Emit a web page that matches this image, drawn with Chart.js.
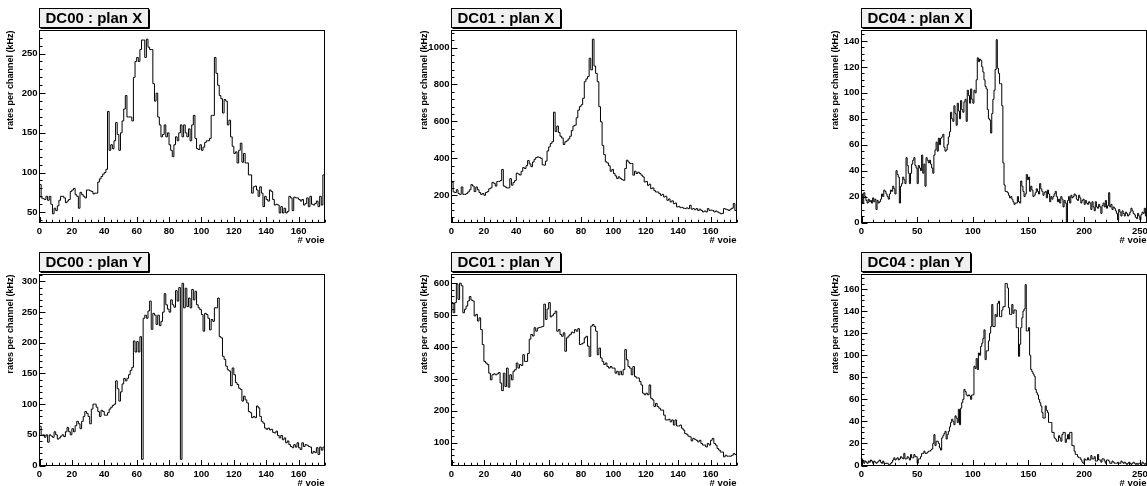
<!DOCTYPE html>
<html>
<head>
<meta charset="utf-8">
<title>DC rates per channel</title>
<script src="https://cdn.jsdelivr.net/npm/chart.js@4.4.1/dist/chart.umd.min.js"></script>
<style>
  html, body { margin: 0; padding: 0; background: #fff; }
  #page { position: relative; width: 1147px; height: 486px; overflow: hidden; }
  #page canvas { position: absolute; }
</style>
</head>
<body>
<div id="page"></div>
<script>
// rates per channel (kHz), one value per channel ("voie")
const dc00X = [
  85, 68, 67, 66, 70, 65, 70, 60, 48, 55,
  52, 58, 65, 70, 70, 68, 62, 64, 66, 76,
  78, 80, 72, 70, 55, 75, 72, 70, 68, 78,
  78, 77, 76, 73, 74, 74, 88, 92, 95, 98,
  100, 104, 177, 128, 135, 130, 140, 163, 148, 128,
  150, 165, 180, 197, 170, 170, 170, 165, 220, 240,
  245, 240, 255, 267, 267, 245, 268, 258, 255, 255,
  212, 190, 200, 170, 160, 145, 148, 160, 145, 150,
  135, 128, 120, 135, 145, 140, 150, 160, 145, 160,
  150, 145, 155, 140, 160, 172, 143, 130, 129, 135,
  128, 132, 138, 140, 140, 143, 172, 172, 245, 225,
  210, 197, 193, 175, 192, 190, 160, 166, 145, 133,
  124, 126, 112, 128, 137, 113, 124, 112, 112, 97,
  97, 74, 82, 83, 78, 70, 82, 74, 57, 70,
  66, 64, 78, 76, 66, 59, 60, 59, 49, 57,
  49, 55, 49, 51, 70, 68, 52, 69, 68, 68,
  66, 64, 66, 59, 61, 68, 57, 70, 60, 59,
  61, 64, 57, 70, 59, 97
];

const dc01X = [
  272, 218, 215, 230, 210, 205, 245, 205, 205, 210,
  218, 230, 258, 250, 220, 245, 230, 215, 205, 210,
  200, 215, 220, 235, 240, 270, 265, 250, 275, 275,
  280, 340, 250, 245, 240, 240, 290, 255, 270, 280,
  320, 315, 310, 330, 350, 345, 360, 388, 370, 355,
  380, 395, 405, 408, 405, 400, 365, 363, 385, 440,
  462, 480, 490, 650, 545, 575, 540, 520, 510, 475,
  490, 495, 505, 520, 550, 575, 580, 620, 661, 680,
  690, 725, 815, 830, 843, 942, 879, 1045, 900, 860,
  815, 680, 598, 470, 420, 381, 375, 360, 330, 340,
  318, 305, 291, 300, 291, 285, 281, 345, 390, 380,
  372, 372, 309, 330, 318, 325, 318, 309, 300, 272,
  275, 254, 260, 236, 240, 225, 218, 218, 210, 200,
  205, 191, 195, 173, 180, 164, 170, 155, 158, 137,
  140, 133, 135, 130, 128, 132, 128, 146, 125, 128,
  122, 128, 118, 125, 118, 110, 115, 110, 128, 118,
  120, 118, 110, 115, 110, 105, 100, 102, 128, 125,
  122, 118, 125, 130, 155, 118
];

const dc04X = [
  22, 15, 23, 20, 17, 15, 18, 16, 17, 15,
  19, 16, 18, 10, 17, 15, 16, 18, 22, 20,
  25, 24, 22, 20, 18, 22, 25, 24, 28, 26,
  22, 40, 37, 35, 15, 28, 30, 35, 33, 30,
  50, 44, 38, 30, 38, 45, 48, 50, 44, 42,
  30, 44, 42, 40, 52, 38, 45, 28, 50, 48,
  46, 48, 45, 42, 38, 52, 56, 62, 55, 65,
  60, 65, 66, 68, 58, 55, 56, 60, 66, 70,
  85, 80, 78, 90, 84, 75, 92, 86, 80, 94,
  87, 85, 93, 95, 78, 102, 98, 92, 103, 95,
  92, 102, 100, 110, 127, 124, 126, 125, 120, 116,
  110, 105, 103, 87, 80, 79, 69, 84, 95, 102,
  118, 141, 119, 115, 107, 107, 90, 46, 29, 24,
  24, 23, 21, 19, 20, 18, 16, 14, 15, 15,
  20, 16, 15, 32, 28, 24, 20, 22, 37, 33,
  35, 24, 28, 25, 20, 21, 23, 26, 24, 22,
  30, 26, 24, 21, 23, 24, 19, 25, 22, 16,
  20, 18, 20, 22, 24, 20, 16, 18, 15, 20,
  18, 12, 17, 15, 0, 17, 20, 15, 21, 19,
  20, 22, 21, 18, 17, 21, 19, 15, 17, 18,
  14, 17, 15, 14, 16, 15, 10, 16, 12, 9,
  16, 12, 11, 14, 12, 7, 13, 15, 12, 17,
  11, 13, 23, 12, 14, 10, 12, 11, 9, 7,
  2, 10, 8, 5, 9, 7, 5, 8, 7, 5,
  6, 8, 11, 9, 7, 6, 4, 3, 7, 5,
  2, 6, 8, 7, 11, 5
];

const dc00Y = [
  64, 49, 50, 46, 50, 38, 50, 48, 46, 55,
  50, 43, 45, 48, 50, 47, 55, 62, 55, 50,
  60, 55, 65, 72, 68, 60, 72, 80, 88, 85,
  80, 68, 92, 100, 100, 95, 88, 80, 90, 88,
  82, 82, 86, 92, 95, 98, 100, 138, 125, 105,
  120, 133, 142, 138, 142, 148, 155, 160, 203, 185,
  202, 185, 210, 10, 240, 245, 240, 252, 268, 222,
  248, 245, 230, 245, 228, 235, 250, 280, 262, 255,
  250, 270, 262, 258, 285, 268, 290, 10, 297, 257,
  289, 259, 273, 257, 287, 270, 284, 262, 257, 254,
  246, 219, 248, 246, 240, 221, 238, 235, 257, 257,
  273, 210, 208, 178, 173, 162, 156, 154, 130, 159,
  148, 135, 132, 126, 124, 105, 113, 107, 102, 88,
  86, 78, 80, 78, 97, 94, 80, 72, 69, 61,
  59, 61, 58, 59, 54, 53, 56, 49, 45, 49,
  42, 45, 37, 40, 34, 31, 29, 34, 30, 37,
  29, 26, 37, 31, 34, 33, 31, 30, 20, 23,
  21, 29, 18, 30, 25, 30
];

const dc01Y = [
  540, 508, 540, 598, 550, 601, 593, 508, 519, 529,
  545, 559, 548, 545, 498, 503, 482, 492, 455, 408,
  355, 350, 345, 318, 297, 313, 316, 313, 316, 320,
  287, 263, 318, 276, 334, 274, 313, 297, 324, 329,
  350, 334, 345, 342, 376, 355, 355, 380, 425, 440,
  435, 461, 450, 460, 462, 463, 465, 535, 487, 520,
  540, 495, 500, 505, 513, 450, 455, 440, 434, 445,
  387, 429, 435, 440, 447, 445, 455, 450, 458, 408,
  410, 413, 429, 434, 403, 371, 466, 471, 465, 450,
  376, 397, 366, 355, 345, 350, 339, 334, 339, 334,
  334, 318, 324, 313, 324, 313, 329, 392, 360, 339,
  334, 313, 339, 308, 303, 303, 292, 281, 255, 250,
  255, 250, 281, 239, 234, 213, 223, 213, 208, 202,
  202, 186, 171, 171, 173, 165, 171, 155, 171, 152,
  152, 155, 145, 139, 128, 126, 120, 118, 105, 113,
  110, 107, 102, 107, 97, 92, 92, 86, 97, 92,
  107, 113, 97, 92, 81, 76, 70, 70, 55, 60,
  57, 57, 57, 60, 65, 62
];

const dc04Y = [
  6, 4, 2, 4, 3, 2, 4, 3, 5, 4,
  2, 4, 3, 2, 3, 4, 5, 3, 2, 4,
  2, 2, 2, 2, 1, 1, 2, 3, 5, 7,
  5, 6, 7, 5, 6, 8, 7, 6, 11, 6,
  6, 8, 7, 5, 10, 7, 7, 10, 8, 8,
  2, 6, 6, 8, 11, 11, 13, 11, 11, 12,
  13, 13, 14, 15, 20, 28, 18, 22, 22, 20,
  16, 14, 25, 27, 29, 31, 24, 28, 31, 35,
  39, 42, 40, 37, 45, 43, 39, 51, 37, 52,
  57, 60, 69, 67, 64, 63, 64, 63, 60, 64,
  64, 90, 88, 97, 87, 102, 100, 108, 111, 115,
  123, 96, 104, 104, 113, 120, 126, 146, 126, 126,
  137, 135, 147, 149, 135, 135, 141, 144, 144, 165,
  165, 161, 143, 137, 137, 146, 138, 141, 141, 125,
  125, 99, 110, 125, 134, 140, 142, 164, 122, 122,
  125, 100, 87, 85, 83, 81, 69, 66, 64, 60,
  57, 54, 48, 43, 43, 54, 50, 48, 39, 39,
  39, 30, 30, 25, 24, 22, 22, 27, 25, 22,
  28, 30, 30, 21, 24, 28, 24, 30, 30, 18,
  18, 13, 10, 10, 8, 7, 7, 5, 3, 2,
  6, 5, 5, 7, 5, 5, 9, 6, 6, 8,
  4, 4, 10, 5, 5, 3, 6, 6, 4, 2,
  5, 5, 4, 2, 2, 4, 3, 2, 2, 2,
  3, 2, 2, 4, 3, 2, 3, 2, 1, 2,
  3, 2, 1, 2, 3, 2, 1, 2, 1, 2,
  2, 1, 3, 2, 1, 2
];

const titles = ["DC00 : plan X", "DC01 : plan X", "DC04 : plan X",
                "DC00 : plan Y", "DC01 : plan Y", "DC04 : plan Y"];
const series = [dc00X, dc01X, dc04X, dc00Y, dc01Y, dc04Y];
const xMajor = [20, 20, 50, 20, 20, 50];
const xMinor = [4, 4, 10, 4, 4, 10];
const yMajor = [50, 200, 20, 50, 100, 20];
const yMinor = [10, 40, 5, 10, 20, 5];
const xTitle = "# voie";
const yTitle = "rates per channel (kHz)";

// page layout: one canvas per pad
const cols = [
  { x: 0,   w: 382, padL: 5.6,  frameL: 39.5, frameR: 324.5 },
  { x: 382, w: 383, padL: 36.8, frameL: 69.5, frameR: 354.5 },
  { x: 765, w: 382, padL: 65.6, frameL: 96.5, frameR: 381.5 }
];
const rows = [
  { y: 0,   h: 243, frameT: 30.5, frameB: 222.5 },
  { y: 243, h: 243, frameT: 31.5, frameB: 222.5 }
];

const FAMILY = '"Liberation Sans", Arial, Helvetica, sans-serif';
Chart.defaults.font.family = FAMILY;
Chart.defaults.color = "#000";

// major tick values that fall inside the axis range
function majorTicks(step) {
  return s => {
    const t = [];
    for (let k = Math.ceil(s.min / step - 1e-9); k * step <= s.max + 1e-9; k++) {
      t.push({ value: k * step });
    }
    s.ticks = t;
  };
}

// ROOT-like frame, inner ticks and title box
const rootPad = {
  id: "rootPad",
  afterDatasetsDraw(chart, args, o) {
    const { ctx, chartArea: a, scales: { x, y } } = chart;
    ctx.save();
    ctx.strokeStyle = "#000";
    ctx.lineWidth = 1;
    ctx.strokeRect(a.left, a.top, a.right - a.left, a.bottom - a.top);

    ctx.beginPath();
    const nx = Math.round(o.xMajor / o.xMinor);
    for (let k = 0; k * o.xMinor <= x.max + 1e-9; k++) {
      const px = Math.round(x.getPixelForValue(k * o.xMinor)) + 0.5;
      const len = k % nx === 0 ? 5.5 : 2.75;
      ctx.moveTo(px, a.bottom);
      ctx.lineTo(px, a.bottom - len);
    }
    const ny = Math.round(o.yMajor / o.yMinor);
    for (let k = Math.ceil(y.min / o.yMinor); k * o.yMinor <= y.max; k++) {
      const py = Math.round(y.getPixelForValue(k * o.yMinor)) + 0.5;
      const len = k % ny === 0 ? 6 : 3;
      ctx.moveTo(a.left, py);
      ctx.lineTo(a.left + len, py);
    }
    ctx.stroke();

    // title box
    ctx.font = "bold 15px " + FAMILY;
    const tw = ctx.measureText(o.title).width;
    const bx = a.left, by = a.top - 22;
    const bw = Math.round(tw + 12), bh = 19;
    ctx.fillStyle = "#f0f0f0";
    ctx.fillRect(bx, by, bw, bh);
    ctx.strokeRect(bx, by, bw, bh);
    ctx.beginPath();
    ctx.moveTo(bx + bw + 1, by + 1);
    ctx.lineTo(bx + bw + 1, by + bh + 1);
    ctx.lineTo(bx + 1, by + bh + 1);
    ctx.stroke();
    ctx.fillStyle = "#000";
    ctx.textBaseline = "middle";
    ctx.fillText(o.title, bx + 6, by + bh / 2 + 0.5);
    ctx.restore();
  }
};

const page = document.getElementById("page");

series.forEach((values, i) => {
  const col = cols[i % 3], row = rows[Math.floor(i / 3)];
  const canvas = document.createElement("canvas");
  canvas.width = col.w;
  canvas.height = row.h;
  canvas.style.left = col.x + "px";
  canvas.style.top = row.y + "px";
  page.appendChild(canvas);

  const n = values.length;
  const points = values.map((v, k) => ({ x: k, y: v }));
  points.push({ x: n, y: values[n - 1] });

  // ROOT default: 5% margin above max and below min, clamped at 0
  const lo = Math.min(...values), hi = Math.max(...values);
  const margin = 0.05 * (hi - lo);
  let ymin = lo - margin;
  if (ymin < 0 && lo >= 0) ymin = 0;
  const ymax = hi + margin;

  const tickFont = { size: 9.5, weight: "bold" };

  new Chart(canvas, {
    type: "line",
    data: {
      datasets: [{
        data: points,
        stepped: true,
        borderColor: "#000",
        borderWidth: 1,
        pointRadius: 0,
        fill: false
      }]
    },
    options: {
      responsive: false,
      animation: false,
      devicePixelRatio: 1,
      layout: { padding: { left: col.padL, top: row.frameT, right: col.w - col.frameR, bottom: 0 } },
      plugins: {
        legend: { display: false },
        tooltip: { enabled: false },
        rootPad: { title: titles[i], xMajor: xMajor[i], xMinor: xMinor[i], yMajor: yMajor[i], yMinor: yMinor[i] }
      },
      scales: {
        x: {
          type: "linear",
          min: 0,
          max: n,
          grid: { display: false, drawTicks: false },
          border: { display: false },
          afterBuildTicks: majorTicks(xMajor[i]),
          ticks: {
            autoSkip: false, maxRotation: 0, padding: 3.5, font: tickFont,
            callback: v => String(v)
          },
          title: {
            display: true, text: xTitle, align: "end",
            font: { size: 9.5, weight: "bold" }, padding: { top: 0, bottom: -2.7 }
          },
          afterFit: s => { s.height = row.h - row.frameB; s.paddingLeft = 0; s.paddingRight = 0; }
        },
        y: {
          type: "linear",
          min: ymin,
          max: ymax,
          grid: { display: false, drawTicks: false },
          border: { display: false },
          afterBuildTicks: majorTicks(yMajor[i]),
          ticks: {
            autoSkip: false, padding: 2, font: tickFont,
            callback: v => String(v)
          },
          title: {
            display: true, text: yTitle, align: "end",
            font: { size: 9, weight: "bold" }, padding: 0
          },
          afterFit: s => { s.width = col.frameL - col.padL; s.paddingTop = 0; s.paddingBottom = 0; }
        }
      }
    },
    plugins: [rootPad]
  });
});
</script>
</body>
</html>
